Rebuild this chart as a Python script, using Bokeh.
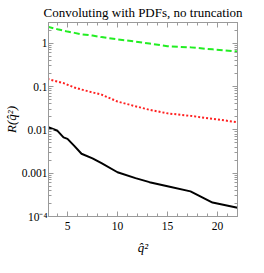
from bokeh.plotting import figure
from bokeh.models import LinearAxis, LogAxis, Range1d, FixedTicker, CustomJSTickFormatter
from bokeh.embed import file_html
from bokeh.resources import INLINE

# data
q2 = [3.0, 4.0, 4.6, 5.0, 5.7, 6.4, 7.5, 8.4, 10.0, 11.8, 13.2, 15.0, 17.3, 19.5, 22.0]
r_green = [2.4, 2.1, 1.95, 1.85, 1.73, 1.6, 1.5, 1.38, 1.22, 1.09, 0.98, 0.85, 0.8, 0.72, 0.64]
r_red = [0.15, 0.13, 0.12, 0.11, 0.095, 0.085, 0.073, 0.065, 0.045, 0.035, 0.029, 0.024, 0.021, 0.018, 0.015]
r_black = [0.0117, 0.0095, 0.0067, 0.0062, 0.0042, 0.0028, 0.0022, 0.0017, 0.00105, 0.00077, 0.00062, 0.0005, 0.00038, 0.00021, 0.00016]
x_ticks = [5, 10, 15, 20]
y_ticks = [1e-4, 1e-3, 1e-2, 1e-1, 1]
y_tick_labels = ["10⁻⁴", "0.001", "0.01", "0.1", "1"]

FONT = "Liberation Serif"
FRAME = "#9a9a9a"
x_minor = list(range(3, 23))
y_minor = [m * 10.0 ** e for e in range(-4, 1) for m in range(2, 10)]

p = figure(width=248, height=257, y_axis_type="log", output_backend="svg",
           toolbar_location=None, x_range=Range1d(3.1, 22.0), y_range=Range1d(1e-4, 3.0),
           min_border_left=0, min_border_right=11, min_border_top=0, min_border_bottom=0)
p.title.text = "Convoluting with PDFs, no truncation"
p.title.text_font = FONT
p.title.text_font_size = "13px"
p.title.text_font_style = "normal"
p.title.text_color = "black"
p.title.align = "center"
p.title.standoff = 5
p.grid.visible = False
p.outline_line_color = FRAME

p.line(q2, r_black, line_color="black", line_width=2)
p.line(q2, r_red, line_color="#ff2020", line_width=2, line_dash="2 2")
p.line(q2, r_green, line_color="#22ee22", line_width=2, line_dash="6 3")

xa = p.xaxis[0]
xa.ticker = FixedTicker(ticks=x_ticks, minor_ticks=x_minor)
xa.axis_label = "q̂²"
ya = p.yaxis[0]
ya.ticker = FixedTicker(ticks=y_ticks, minor_ticks=y_minor)
ya.formatter = CustomJSTickFormatter(args=dict(vals=y_ticks, labs=y_tick_labels), code="""
let best = 0, bd = 1e9;
for (let i = 0; i < vals.length; i++) {
  const d = Math.abs(Math.log10(tick) - Math.log10(vals[i]));
  if (d < bd) { bd = d; best = i; }
}
return labs[best];
""")
ya.axis_label = "R(q̂²)"

for ax in (xa, ya):
    ax.axis_line_color = FRAME
    ax.major_tick_line_color = FRAME
    ax.minor_tick_line_color = FRAME
    ax.major_tick_in = 5
    ax.major_tick_out = 0
    ax.minor_tick_in = 3
    ax.minor_tick_out = 0
    ax.major_label_text_font = FONT
    ax.major_label_text_font_size = "11.5px"
    ax.major_label_text_color = "black"
    ax.axis_label_text_font = FONT
    ax.axis_label_text_font_size = "13px"
    ax.axis_label_text_font_style = "italic"
    ax.axis_label_text_color = "black"
ya.major_label_standoff = 1
ya.axis_label_standoff = 0
xa.major_label_standoff = 5
xa.axis_label_standoff = 7

blank = CustomJSTickFormatter(code="return '';")
top = LinearAxis(ticker=FixedTicker(ticks=x_ticks, minor_ticks=x_minor), formatter=blank)
right = LogAxis(ticker=FixedTicker(ticks=y_ticks, minor_ticks=y_minor),
                formatter=CustomJSTickFormatter(code="return '';"))
for ax in (top, right):
    ax.axis_line_color = FRAME
    ax.major_tick_line_color = FRAME
    ax.minor_tick_line_color = FRAME
    ax.major_tick_in = 5
    ax.major_tick_out = 0
    ax.minor_tick_in = 3
    ax.minor_tick_out = 0
    ax.major_label_standoff = 0
    ax.axis_label_standoff = 0
p.add_layout(top, "above")
p.add_layout(right, "right")

open("out.html", "w").write(file_html(p, INLINE))
